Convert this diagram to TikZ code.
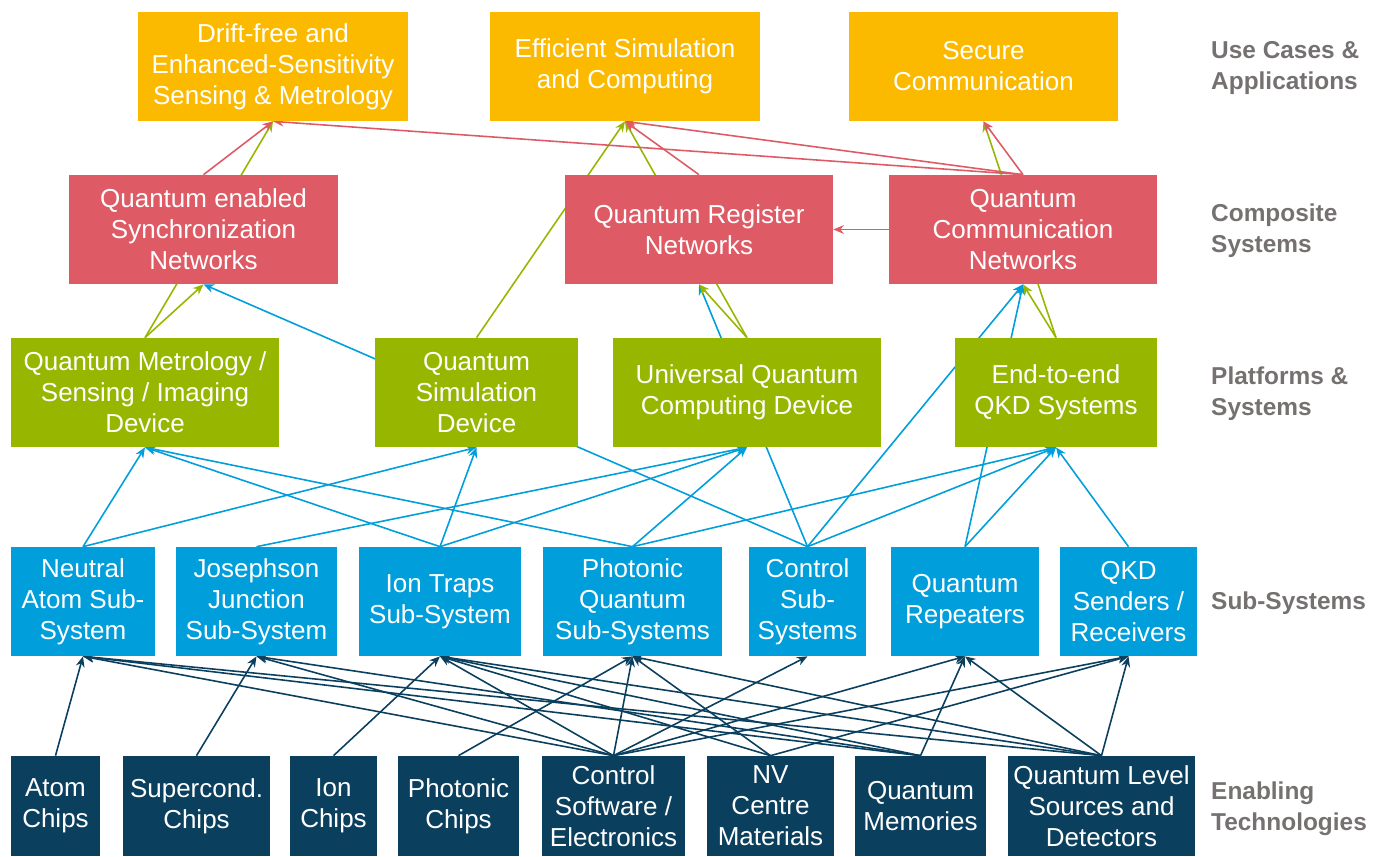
\documentclass[tikz,border=0pt]{standalone}
\usepackage{fontspec}
\setmainfont{Liberation Sans}
\usetikzlibrary{arrows.meta}
\pgfdeclarelayer{bg}
\pgfsetlayers{bg,main}

\definecolor{usecase}{HTML}{FBB900}
\definecolor{composite}{HTML}{DE5B66}
\definecolor{platform}{HTML}{97B600}
\definecolor{subsys}{HTML}{009EDB}
\definecolor{enabling}{HTML}{0B3F5E}
\definecolor{levelgray}{HTML}{767171}

\tikzset{
  box/.style={rectangle, inner sep=0pt, text=white, align=center,
    minimum height=2.18cm, font=\fontsize{14.8}{17.6}\selectfont},
  levellabel/.style={anchor=west, align=left, text=levelgray,
    font=\bfseries\fontsize{13.9}{17.6}\selectfont},
  link/.style={line width=0.9pt, -{Stealth[length=6pt,width=5pt]}},
}

\begin{document}
\begin{tikzpicture}[x=0.02cm,y=-0.02cm]
	\useasboundingbox (0,0) rectangle (1375,856);
	% use cases
	\node[box, fill=usecase, minimum width=5.4cm] (a1) at (273,66.5) {Drift-free and\\Enhanced-Sensitivity\\Sensing \& Metrology};
	\node[box, fill=usecase, minimum width=5.4cm] (a2) at (625,66.5) {Efficient Simulation\\and Computing};
	\node[box, fill=usecase, minimum width=5.38cm] (a3) at (983.5,66.5) {Secure\\Communication};
	% composite systems
	\node[box, fill=composite, minimum width=5.38cm] (b1) at (203.5,229.5) {Quantum enabled\\Synchronization\\Networks};
	\node[box, fill=composite, minimum width=5.36cm] (b2) at (699,229.5) {Quantum Register\\Networks};
	\node[box, fill=composite, minimum width=5.36cm] (b3) at (1023,229.5) {Quantum\\Communication\\Networks};
	% platforms
	\node[box, fill=platform, minimum width=5.36cm] (c1) at (145,392.5) {Quantum Metrology /\\Sensing / Imaging\\Device};
	\node[box, fill=platform, minimum width=4.06cm] (c2) at (476.5,392.5) {Quantum\\Simulation\\Device};
	\node[box, fill=platform, minimum width=5.36cm] (c3) at (747,392.5) {Universal Quantum\\Computing Device};
	\node[box, fill=platform, minimum width=4.04cm] (c4) at (1056,392.5) {End-to-end\\QKD Systems};
	% sub-systems
	\node[box, fill=subsys, minimum width=2.88cm] (d1) at (83,601.5) {Neutral\\Atom Sub-\\System};
	\node[box, fill=subsys, minimum width=3.22cm] (d2) at (256.5,601.5) {Josephson\\Junction\\Sub-System};
	\node[box, fill=subsys, minimum width=3.24cm] (d3) at (440,601.5) {Ion Traps\\Sub-System};
	\node[box, fill=subsys, minimum width=3.58cm] (d4) at (632.5,601.5) {Photonic\\Quantum\\Sub-Systems};
	\node[box, fill=subsys, minimum width=2.34cm] (d5) at (807.5,601.5) {Control\\Sub-\\Systems};
	\node[box, fill=subsys, minimum width=2.96cm] (d6) at (965,601.5) {Quantum\\Repeaters};
	\node[box, fill=subsys, minimum width=2.74cm] (d7) at (1128.5,601.5) {QKD\\Senders /\\Receivers};
	% enabling technologies
	\node[box, fill=enabling, minimum width=1.78cm, minimum height=2cm] (e1) at (55.5,806) {Atom\\Chips};
	\node[box, fill=enabling, minimum width=2.94cm, minimum height=2cm] (e2) at (196.5,806) {Supercond.\\Chips};
	\node[box, fill=enabling, minimum width=1.74cm, minimum height=2cm] (e3) at (333.5,806) {Ion\\Chips};
	\node[box, fill=enabling, minimum width=2.42cm, minimum height=2cm] (e4) at (458.5,806) {Photonic\\Chips};
	\node[box, fill=enabling, minimum width=2.86cm, minimum height=2cm] (e5) at (613.5,806) {Control\\Software /\\Electronics};
	\node[box, fill=enabling, minimum width=2.54cm, minimum height=2cm] (e6) at (770.5,806) {NV\\Centre\\Materials};
	\node[box, fill=enabling, minimum width=2.62cm, minimum height=2cm] (e7) at (920.5,806) {Quantum\\Memories};
	\node[box, fill=enabling, minimum width=3.74cm, minimum height=2cm] (e8) at (1101.5,806) {Quantum Level\\Sources and\\Detectors};
	% level names
	\node[levellabel] (l1) at (1205,68) {Use Cases \&\\Applications};
	\node[levellabel] (l2) at (1205,231) {Composite\\Systems};
	\node[levellabel] (l3) at (1205,394) {Platforms \&\\Systems};
	\node[levellabel] (l4) at (1205,603) {Sub-Systems};
	\node[levellabel] (l5) at (1205,809) {Enabling\\Technologies};

	\begin{pgfonlayer}{bg}
	\foreach \s/\t in {e1/d1,e2/d2,e3/d3,e4/d4,e5/d1,e5/d2,e5/d3,e5/d4,e5/d5,e5/d6,e5/d7,
	                   e6/d3,e6/d4,e6/d7,e7/d1,e7/d2,e7/d3,e7/d6,e8/d1,e8/d3,e8/d4,e8/d6,e8/d7}
		\draw[link, enabling] (\s.north) -- (\t.south);
	\foreach \s/\t in {d1/c1,d1/c2,d2/c3,d3/c1,d3/c2,d3/c3,d4/c1,d4/c3,d4/c4,d5/c4,d6/c4,d7/c4,
	                   d5/b1,d5/b2,d5/b3,d6/b3}
		\draw[link, subsys] (\s.north) -- (\t.south);
	\foreach \s/\t in {c1/b1,c1/a1,c2/a2,c3/b2,c3/a2,c4/b3,c4/a3}
		\draw[link, platform] (\s.north) -- (\t.south);
	\foreach \s/\t in {b1/a1,b2/a2,b3/a1,b3/a2,b3/a3}
		\draw[link, composite] (\s.north) -- (\t.south);
	\draw[link, composite] (b3.west) -- (b2.east);
	\end{pgfonlayer}
\end{tikzpicture}
\end{document}
